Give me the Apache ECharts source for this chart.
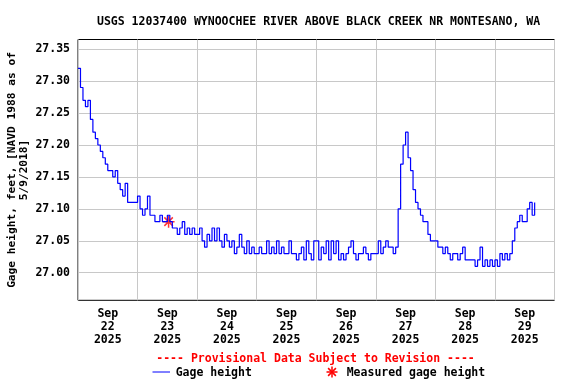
<!DOCTYPE html>
<html><head><meta charset="utf-8">
<script src="https://cdn.jsdelivr.net/npm/echarts@6/dist/echarts.min.js"></script>
<style>html,body{margin:0;padding:0;background:#fff}#c{width:576px;height:384px}</style>
</head><body><div id="c"></div>
<script>
const titleText = 'USGS 12037400 WYNOOCHEE RIVER ABOVE BLACK CREEK NR MONTESANO, WA';
const yAxisTitle = 'Gage height, feet, [NAVD 1988 as of\n5/9/2018]';
const provisionalText = '---- Provisional Data Subject to Revision ----';
const seriesName = 'Gage height';
const measuredName = 'Measured gage height';
const xTickLabels = ['Sep\n22\n2025','Sep\n23\n2025','Sep\n24\n2025','Sep\n25\n2025','Sep\n26\n2025','Sep\n27\n2025','Sep\n28\n2025','Sep\n29\n2025'];
const xLabelHours = [12,36,60,84,108,132,156,180];
const yTicks = [27.00,27.05,27.10,27.15,27.20,27.25,27.30,27.35];
// hourly gage height (ft), hour 0 = Sep 22 00:00
const day1 = [27.32,27.29,27.27,27.26,27.27,27.24,27.22,27.21,27.20,27.19,27.18,27.17,27.16,27.16,27.15,27.16,27.14,27.13,27.12,27.14,27.11,27.11,27.11,27.11];
const day2 = [27.12,27.10,27.09,27.10,27.12,27.09,27.09,27.08,27.08,27.09,27.08,27.08,27.09,27.08,27.07,27.07,27.06,27.07,27.08,27.06,27.07,27.06,27.07,27.06];
const day3 = [27.06,27.07,27.05,27.04,27.06,27.05,27.07,27.05,27.07,27.05,27.04,27.06,27.05,27.04,27.05,27.03,27.04,27.06,27.04,27.03,27.05,27.03,27.04,27.03];
const day4 = [27.03,27.04,27.03,27.03,27.05,27.03,27.04,27.03,27.05,27.03,27.04,27.03,27.03,27.05,27.03,27.03,27.02,27.03,27.04,27.02,27.05,27.03,27.02,27.05];
const day5 = [27.05,27.02,27.04,27.03,27.05,27.02,27.05,27.03,27.05,27.02,27.03,27.02,27.03,27.04,27.05,27.03,27.02,27.03,27.03,27.04,27.03,27.02,27.03,27.03];
const day6 = [27.03,27.05,27.03,27.04,27.05,27.04,27.04,27.03,27.04,27.10,27.17,27.20,27.22,27.18,27.16,27.13,27.11,27.10,27.09,27.08,27.08,27.06,27.05,27.05];
const day7 = [27.05,27.04,27.04,27.03,27.04,27.03,27.02,27.03,27.03,27.02,27.03,27.04,27.02,27.02,27.02,27.02,27.01,27.02,27.04,27.01,27.02,27.01,27.02,27.01];
const day8 = [27.02,27.01,27.03,27.02,27.03,27.02,27.03,27.05,27.07,27.08,27.09,27.08,27.08,27.10,27.11,27.09,27.11];
const measuredHours = [36.5];
const measuredValues = [27.08];

const gage = [].concat(day1, day2, day3, day4, day5, day6, day7, day8);
const lineData = gage.map((v, i) => [i, v]);
const FONT = 'DejaVu Sans Mono';
const asterisk = 'M0,6L12,6M6,0L6,12M1.76,1.76L10.24,10.24M10.24,1.76L1.76,10.24';

function asteriskGraphic(cx, cy, r) {
  const d = r * Math.SQRT1_2;
  const segs = [[-r,0,r,0],[0,-r,0,r],[-d,-d,d,d],[d,-d,-d,d]];
  return {type: 'group', children: segs.map(s => ({
    type: 'line', shape: {x1: cx + s[0], y1: cy + s[1], x2: cx + s[2], y2: cy + s[3]},
    style: {stroke: '#ff0000', lineWidth: 1.5}
  }))};
}

const chart = echarts.init(document.getElementById('c'), null, {renderer: 'canvas'});
chart.setOption({
  animation: false,
  backgroundColor: '#fff',
  title: {
    text: titleText, left: 92, top: 11,
    textStyle: {fontFamily: FONT, fontSize: 11.5, fontWeight: 'bold', color: '#000'}
  },
  grid: {left: 78, right: 21.5, top: 39.5, bottom: 83.7, show: true, borderColor: '#000', borderWidth: 1, backgroundColor: 'transparent'},
  xAxis: {
    type: 'value', min: 0, max: 192, interval: 24,
    axisLine: {show: false}, axisTick: {show: false},
    splitLine: {show: true, lineStyle: {color: '#c8c8c8', width: 1}},
    axisLabel: {
      customValues: xLabelHours,
      formatter: v => xTickLabels[xLabelHours.indexOf(v)] || '',
      fontFamily: FONT, fontSize: 11.5, fontWeight: 'bold', color: '#000', lineHeight: 13, margin: 7
    }
  },
  yAxis: {
    type: 'value', min: 26.9568, max: 27.3652,
    axisLine: {show: false},
    axisTick: {show: false, customValues: yTicks},
    splitLine: {show: true, lineStyle: {color: '#c8c8c8', width: 1}},
    axisLabel: {
      customValues: yTicks,
      formatter: v => v.toFixed(2),
      fontFamily: FONT, fontSize: 11.5, fontWeight: 'bold', color: '#000', margin: 8
    }
  },
  series: [
    {
      name: seriesName, type: 'line', data: lineData, step: 'end',
      showSymbol: false, lineStyle: {color: '#0000ff', width: 1.2}, itemStyle: {color: '#0000ff'}
    },
    {
      name: measuredName, type: 'scatter',
      data: measuredHours.map((h, i) => [h, measuredValues[i]]),
      symbol: 'path://' + asterisk, symbolSize: 12,
      itemStyle: {color: '#ff0000', borderColor: '#ff0000', borderWidth: 1.5}
    }
  ],
  graphic: [
    {type: 'text', x: 18.3, y: 170, rotation: Math.PI / 2,
     style: {text: yAxisTitle, fontFamily: FONT, fontSize: 11.2, fontWeight: 'bold', fill: '#000', align: 'center', verticalAlign: 'middle', lineHeight: 11.5}},
    {type: 'text', x: 315.5, y: 359,
     style: {text: provisionalText, fontFamily: FONT, fontSize: 11.5, fontWeight: 'bold', fill: '#ff0000', align: 'center', verticalAlign: 'middle'}},
    {type: 'line', shape: {x1: 152.5, y1: 372, x2: 170, y2: 372}, style: {stroke: '#0000ff', lineWidth: 1}},
    {type: 'text', x: 175.7, y: 373,
     style: {text: seriesName, fontFamily: FONT, fontSize: 11.5, fontWeight: 'bold', fill: '#000', align: 'left', verticalAlign: 'middle'}},
    asteriskGraphic(332, 372, 5.5),
    {type: 'text', x: 346.7, y: 373,
     style: {text: measuredName, fontFamily: FONT, fontSize: 11.5, fontWeight: 'bold', fill: '#000', align: 'left', verticalAlign: 'middle'}}
  ]
});
</script></body></html>
